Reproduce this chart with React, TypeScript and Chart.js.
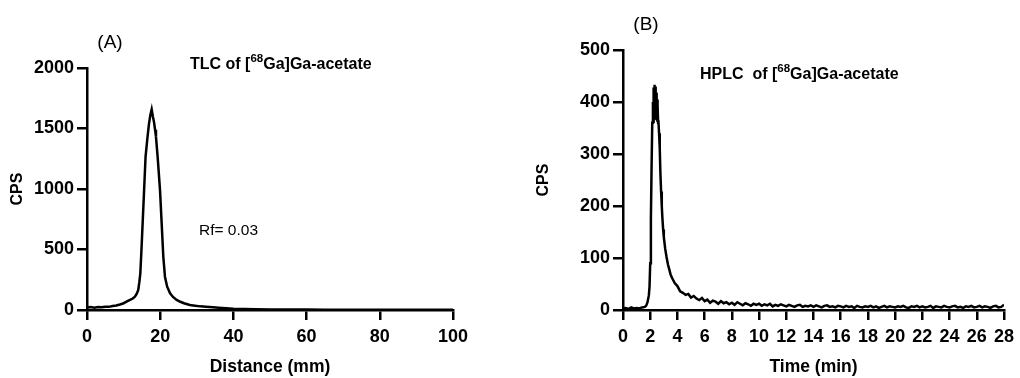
import React, { useEffect, useRef } from "react";
import { Chart, registerables } from "chart.js";

Chart.register(...registerables);

const FONT = "'Liberation Sans', Arial, Helvetica, sans-serif";

// ---------- Panel A: TLC ----------
const tlcDistance = [
  0, 1, 2, 3, 4, 5, 6, 7, 8, 9, 10,
  10.8, 11.75, 12.5, 13.1, 13.6, 14, 14.3, 14.57, 14.9, 15.2,
  15.6, 16, 16.5, 16.95, 17.3, 17.67, 18, 18.3, 18.6, 18.85,
  19.3, 19.95, 20.4, 20.85, 21.3, 21.9, 22.7, 23.5, 24.5, 25.5,
  26.5, 28.1, 29.5, 31, 32.5, 34.4, 36, 38, 40, 43,
  46, 50, 55, 60, 65, 70, 75, 80, 85, 90,
  95, 100,
];
const tlcCps = [
  20, 24, 19, 25, 22, 27, 26, 33, 38, 46, 56,
  69, 83, 95, 110, 135, 165, 230, 303, 510, 716,
  990, 1266, 1420, 1542, 1610, 1658, 1600, 1555, 1490, 1431,
  1266, 991, 716, 440, 275, 193, 138, 108, 83, 68,
  56, 41, 36, 30, 26, 22, 18, 14, 10, 8,
  7, 5, 4, 4, 3, 3, 3, 3, 3, 3,
  3, 3,
];
const tlcXTicks = [0, 20, 40, 60, 80, 100];
const tlcYTicks = [0, 500, 1000, 1500, 2000];

// ---------- Panel B: HPLC ----------
const hplcTime = [
  0, 0.2, 0.4, 0.6, 0.8, 1.0, 1.2, 1.4, 1.6, 1.7, 1.8, 1.9, 1.95,
  2.0, 2.05, 2.1, 2.15,
  2.2, 2.22, 2.24, 2.26, 2.28, 2.3, 2.32, 2.34, 2.36, 2.38,
  2.4, 2.42, 2.44, 2.46, 2.48, 2.5, 2.52, 2.54, 2.56, 2.58,
  2.6, 2.65, 2.7, 2.75, 2.8, 2.85, 2.9,
  2.95, 3.0, 3.1, 3.2, 3.3, 3.4, 3.5, 3.6,
  3.8, 4.0, 4.2, 4.4, 4.6, 4.8, 5.0, 5.2, 5.4, 5.6, 5.8,
  6.0, 6.2, 6.4, 6.6, 6.8, 7.0, 7.2, 7.4, 7.6, 7.8,
  8.0, 8.2, 8.4, 8.6, 8.8, 9.0, 9.2, 9.4, 9.6, 9.8,
  10.0, 10.2, 10.4, 10.6, 10.8, 11.0, 11.2, 11.4, 11.6, 11.8,
  12.0, 12.2, 12.4, 12.6, 12.8, 13.0, 13.2, 13.4, 13.6, 13.8,
  14.0, 14.2, 14.4, 14.6, 14.8, 15.0, 15.2, 15.4, 15.6, 15.8,
  16.0, 16.2, 16.4, 16.6, 16.8, 17.0, 17.2, 17.4, 17.6, 17.8,
  18.0, 18.2, 18.4, 18.6, 18.8, 19.0, 19.2, 19.4, 19.6, 19.8,
  20.0, 20.2, 20.4, 20.6, 20.8, 21.0, 21.2, 21.4, 21.6, 21.8,
  22.0, 22.2, 22.4, 22.6, 22.8, 23.0, 23.2, 23.4, 23.6, 23.8,
  24.0, 24.2, 24.4, 24.6, 24.8, 25.0, 25.2, 25.4, 25.6, 25.8,
  26.0, 26.2, 26.4, 26.6, 26.8, 27.0, 27.2, 27.4, 27.6, 27.8,
  28.0,
];
const hplcCps = [
  3, 4, 2, 5, 3, 4, 3, 5, 6, 8, 15, 28, 45,
  90, 175, 275, 360,
  400, 362, 428, 375, 420, 366, 433, 380, 425, 368,
  430, 372, 418, 365, 412, 370, 405, 362, 395, 360,
  365, 340, 312, 262, 228, 200, 175,
  155, 140, 118, 102, 88, 78, 68, 62,
  52, 46, 36, 33, 29, 31, 24, 27, 22, 19, 23,
  17, 20, 14, 18, 16, 12, 17, 13, 15, 11,
  14, 10, 15, 12, 9, 13, 11, 8, 12, 10,
  12, 8, 11, 9, 12, 7, 10, 8, 11, 9,
  7, 10, 8, 6, 9, 10, 6, 8, 7, 9,
  6, 9, 7, 5, 8, 9, 6, 7, 5, 8,
  7, 5, 8, 6, 7, 4, 8, 6, 5, 7,
  6, 8, 5, 7, 4, 6, 8, 5, 7, 6,
  5, 7, 6, 8, 5, 4, 7, 6, 8, 5,
  7, 5, 6, 8, 4, 7, 6, 5, 8, 6,
  5, 7, 8, 5, 6, 4, 7, 6, 8, 5,
  6, 8, 5, 7, 6, 4, 7, 8, 5, 6,
  10,
];
const hplcXTicks = [0, 2, 4, 6, 8, 10, 12, 14, 16, 18, 20, 22, 24, 26, 28];
const hplcYTicks = [0, 100, 200, 300, 400, 500];

type Run = { t: string; size: number; weight: string; dy: number };
type Note = { x: number; y: number; align: CanvasTextAlign; baseline: CanvasTextBaseline; runs: Run[] };

const notesPlugin = {
  id: "notes",
  afterDraw(chart: any, _args: any, opts: any) {
    const ctx: CanvasRenderingContext2D = chart.ctx;
    const notes: Note[] = opts.notes || [];
    ctx.save();
    ctx.fillStyle = "#000";
    for (const n of notes) {
      let x = n.x;
      ctx.textBaseline = n.baseline;
      if (n.runs.length === 1) {
        const r = n.runs[0];
        ctx.font = `${r.weight} ${r.size}px ${FONT}`;
        ctx.textAlign = n.align;
        ctx.fillText(r.t, x, n.y + r.dy);
        continue;
      }
      ctx.textAlign = "left";
      for (const r of n.runs) {
        ctx.font = `${r.weight} ${r.size}px ${FONT}`;
        ctx.fillText(r.t, x, n.y + r.dy);
        x += ctx.measureText(r.t).width;
      }
    }
    ctx.restore();
  },
};

type PanelSpec = {
  xs: number[];
  ys: number[];
  xTicks: number[];
  yTicks: number[];
  xTitle: string;
  yTitle: string;
  areaLeft: number;
  padTop: number;
  padRight: number;
  yTitlePad: number;
  notes: Note[];
};

function buildConfig(p: PanelSpec): any {
  const axisCommon = {
    grid: {
      display: true,
      drawOnChartArea: false,
      drawTicks: true,
      tickLength: 10,
      color: "#000",
      lineWidth: 2.5,
    },
    border: { display: true, color: "#000", width: 2.5 },
  };
  return {
    type: "line",
    data: {
      datasets: [
        {
          data: p.xs.map((x, i) => ({ x, y: p.ys[i] })),
          borderColor: "#000",
          borderWidth: 2.5,
          pointRadius: 0,
          tension: 0,
          fill: false,
        },
      ],
    },
    options: {
      animation: false,
      responsive: false,
      devicePixelRatio: 1,
      layout: { padding: { left: 0, top: p.padTop, right: p.padRight, bottom: 0 } },
      plugins: {
        legend: { display: false },
        tooltip: { enabled: false },
        notes: { notes: p.notes },
      },
      scales: {
        x: {
          type: "linear",
          min: p.xTicks[0],
          max: p.xTicks[p.xTicks.length - 1],
          afterBuildTicks: (s: any) => {
            s.ticks = p.xTicks.map((v) => ({ value: v }));
          },
          afterFit: (s: any) => {
            s.height = 68;
          },
          ...axisCommon,
          ticks: {
            color: "#000",
            autoSkip: false,
            maxRotation: 0,
            padding: 6,
            callback: (v: any) => String(v),
            font: { family: FONT, size: 18, weight: "bold" },
          },
          title: {
            display: true,
            text: p.xTitle,
            color: "#000",
            font: { family: FONT, size: 17.5, weight: "bold" },
            padding: { top: 0, bottom: 0 },
          },
        },
        y: {
          type: "linear",
          min: p.yTicks[0],
          max: p.yTicks[p.yTicks.length - 1],
          afterBuildTicks: (s: any) => {
            s.ticks = p.yTicks.map((v) => ({ value: v }));
          },
          afterFit: (s: any) => {
            s.width = p.areaLeft;
          },
          ...axisCommon,
          ticks: {
            color: "#000",
            autoSkip: false,
            padding: 3,
            callback: (v: any) => String(v),
            font: { family: FONT, size: 18, weight: "bold" },
          },
          title: {
            display: true,
            text: p.yTitle,
            color: "#000",
            font: { family: FONT, size: 16, weight: "bold" },
            padding: { top: p.yTitlePad, bottom: 0 },
          },
        },
      },
    },
    plugins: [notesPlugin],
  };
}

function Panel({ spec, left, width }: { spec: PanelSpec; left: number; width: number }) {
  const ref = useRef<HTMLCanvasElement>(null);
  useEffect(() => {
    const chart = new Chart(ref.current as HTMLCanvasElement, buildConfig(spec));
    return () => chart.destroy();
  }, []);
  return (
    <canvas
      ref={ref}
      width={width}
      height={378}
      style={{ position: "absolute", left, top: 0, width, height: 378, display: "block" }}
    />
  );
}

const panelA: PanelSpec = {
  xs: tlcDistance,
  ys: tlcCps,
  xTicks: tlcXTicks,
  yTicks: tlcYTicks,
  xTitle: "Distance (mm)",
  yTitle: "CPS",
  areaLeft: 87,
  padTop: 68,
  padRight: 27,
  yTitlePad: 8,
  notes: [
    { x: 110, y: 43, align: "center", baseline: "middle", runs: [{ t: "(A)", size: 19, weight: "normal", dy: 0 }] },
    {
      x: 190,
      y: 69,
      align: "left",
      baseline: "alphabetic",
      runs: [
        { t: "TLC of [", size: 16, weight: "bold", dy: 0 },
        { t: "68", size: 11.5, weight: "bold", dy: -7 },
        { t: "Ga]Ga-acetate", size: 16, weight: "bold", dy: 0 },
      ],
    },
    { x: 199, y: 235, align: "left", baseline: "alphabetic", runs: [{ t: "Rf= 0.03", size: 15.5, weight: "normal", dy: 0 }] },
  ],
};

const panelB: PanelSpec = {
  xs: hplcTime,
  ys: hplcCps,
  xTicks: hplcXTicks,
  yTicks: hplcYTicks,
  xTitle: "Time (min)",
  yTitle: "CPS",
  areaLeft: 123,
  padTop: 50,
  padRight: 14,
  yTitlePad: 34.4,
  notes: [
    { x: 146, y: 25, align: "center", baseline: "middle", runs: [{ t: "(B)", size: 19, weight: "normal", dy: 0 }] },
    {
      x: 200,
      y: 79,
      align: "left",
      baseline: "alphabetic",
      runs: [
        { t: "HPLC  of [", size: 16, weight: "bold", dy: 0 },
        { t: "68", size: 11.5, weight: "bold", dy: -7 },
        { t: "Ga]Ga-acetate", size: 16, weight: "bold", dy: 0 },
      ],
    },
  ],
};

export default function App() {
  return (
    <div
      style={{
        position: "fixed",
        left: 0,
        top: 0,
        width: 1020,
        height: 378,
        background: "#fff",
        overflow: "hidden",
      }}
    >
      <Panel spec={panelA} left={0} width={480} />
      <Panel spec={panelB} left={500} width={520} />
    </div>
  );
}
